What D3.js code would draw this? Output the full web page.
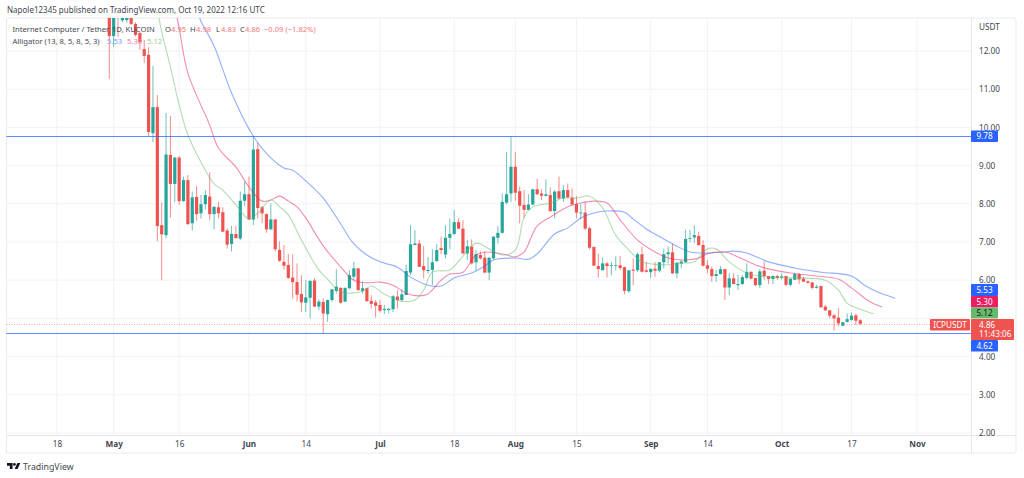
<!DOCTYPE html>
<html>
<head>
<meta charset="utf-8">
<script src="https://cdn.jsdelivr.net/npm/d3@7"></script>
<style>
  html, body { margin: 0; padding: 0; background: #fff; }
  svg { display: block; font-family: "Noto Sans", sans-serif; }
</style>
</head>
<body>
<div id="chart"></div>
<script>
// Daily candles, first one is Apr 30 2022
const firstDay = "2022-04-30";
const opens = [
  13.4,12.39,13.3,12.80,12.81,12.9,12.71,12.47,12.05,11.9,
  9.85,10.53,7.44,7.18,9.28,8.52,9.21,8.07,8.62,7.49,
  8.18,7.75,7.99,8.19,7.73,7.91,7.78,7.30,6.95,7.21,
  7.09,8.08,8.25,7.59,9.43,7.91,7.73,7.33,7.59,6.79,
  6.48,6.40,6.07,5.95,5.64,5.41,5.54,5.99,5.31,5.43,
  5.11,5.48,5.72,5.80,5.44,5.79,6.09,6.31,5.72,5.79,
  5.46,5.42,5.35,5.22,5.22,5.24,5.57,5.48,5.61,6.20,
  6.92,6.96,6.37,6.24,6.27,6.50,6.84,6.67,7.11,7.21,
  7.52,7.35,6.70,6.88,6.47,6.66,6.59,6.20,6.57,7.11,
  7.24,8.03,8.27,8.97,8.33,7.97,7.84,7.98,8.38,8.27,
  8.21,8.23,7.81,8.33,8.14,8.36,8.16,7.99,7.75,7.77,
  7.36,6.87,6.37,6.26,6.44,6.37,6.37,6.39,6.34,5.71,
  6.28,6.26,6.68,6.26,6.21,6.30,6.25,6.47,6.68,6.73,
  6.18,6.44,6.47,7.08,7.12,7.16,6.92,6.39,6.29,6.11,
  6.16,6.29,5.81,6.05,5.87,5.90,6.06,6.22,6.06,5.87,
  6.25,6.11,6.03,6.11,6.07,6.11,5.88,6.01,6.16,6.04,
  5.97,5.94,5.80,5.85,5.31,5.21,5.08,5.02,4.81,4.91,
  4.96,5.08,4.95
];
const highs = [
  13.7,13.5,13.6,13.0,13.0,13.0,12.75,12.50,12.29,12.10,
  11.61,10.85,8.03,10.38,10.30,9.23,9.25,8.71,8.75,8.32,
  8.46,8.23,8.36,8.83,7.94,8.05,7.91,7.36,7.42,7.42,
  8.32,8.58,8.71,9.77,9.60,7.94,7.75,8.01,7.60,7.01,
  6.92,6.68,6.68,6.44,6.13,6.00,6.00,6.05,5.50,5.52,
  5.49,5.77,6.28,5.81,5.81,6.26,6.48,6.32,5.96,5.80,
  5.61,5.48,5.48,5.35,5.28,5.61,5.74,5.76,6.40,7.44,
  7.31,7.05,6.89,6.61,6.81,6.95,7.14,7.44,7.62,7.84,
  7.62,7.57,7.05,7.07,6.79,6.75,6.76,6.60,7.15,7.42,
  8.27,9.36,9.76,9.36,8.45,8.36,8.25,8.39,8.66,8.38,
  8.64,8.43,8.36,8.71,8.49,8.53,8.40,8.20,7.99,8.05,
  7.40,6.88,6.70,6.60,6.48,6.48,6.63,6.63,6.35,6.27,
  6.57,6.72,6.88,6.48,6.30,6.48,6.47,6.83,6.88,6.96,
  6.46,6.53,7.32,7.32,7.43,7.27,7.05,6.53,6.36,6.27,
  6.37,6.29,6.18,6.18,6.14,6.14,6.44,6.23,6.06,6.29,
  6.49,6.11,6.13,6.14,6.18,6.11,6.04,6.20,6.18,6.09,
  5.99,5.96,5.88,5.85,5.35,5.22,5.12,5.27,4.90,5.13,
  5.15,5.13,4.98
];
const lows = [
  11.27,12.10,12.37,12.75,12.74,12.68,12.38,12.03,11.69,9.77,
  9.62,7.02,6.00,7.09,7.64,8.05,7.98,8.05,7.44,7.30,
  7.56,7.61,7.85,7.57,7.33,7.62,7.26,6.83,6.75,7.09,
  7.05,7.94,7.58,7.44,7.62,7.49,7.24,7.33,6.75,6.48,
  6.28,6.03,5.52,5.44,5.17,5.17,5.00,5.30,5.22,4.61,
  4.91,5.44,5.65,5.39,5.43,5.76,6.00,5.72,5.65,5.44,
  5.26,5.02,5.15,5.11,5.13,5.17,5.26,5.44,5.61,6.13,
  6.92,6.35,6.05,6.18,5.87,6.48,6.68,6.57,6.81,7.18,
  7.33,6.68,6.53,6.41,6.26,6.54,6.18,6.00,6.54,6.96,
  7.22,7.99,8.05,8.08,7.49,7.62,7.84,7.97,8.23,8.10,
  8.19,7.79,7.62,8.11,8.05,8.14,7.96,7.62,7.59,7.31,
  6.81,6.37,6.07,6.26,6.07,6.13,6.26,6.26,5.63,5.67,
  5.87,6.22,6.20,6.20,6.06,6.09,6.20,6.31,6.44,6.16,
  6.05,6.31,6.46,6.99,6.97,6.90,6.36,6.18,5.96,5.96,
  6.15,5.48,5.61,5.90,5.75,5.88,6.02,6.02,5.85,5.79,
  6.01,5.90,5.90,6.01,6.02,5.85,5.83,6.01,5.90,5.96,
  5.92,5.76,5.78,5.29,5.20,5.00,4.68,4.79,4.79,4.89,
  4.94,4.83,4.83
];
const closes = [
  12.39,13.2,13.0,12.88,12.88,12.71,12.42,12.24,11.87,9.88,
  10.53,7.42,7.20,9.29,8.52,9.21,8.07,8.62,7.47,8.17,
  7.73,7.99,8.23,7.73,7.92,7.75,7.27,6.93,7.21,7.10,
  8.08,8.25,7.59,9.42,7.89,7.75,7.33,7.59,6.81,6.51,
  6.38,6.06,5.95,5.62,5.42,5.55,5.98,5.31,5.44,5.13,
  5.48,5.76,5.83,5.41,5.80,6.13,6.31,5.74,5.79,5.45,
  5.38,5.33,5.20,5.25,5.25,5.58,5.48,5.63,6.24,6.94,
  6.96,6.35,6.26,6.27,6.47,6.79,6.79,7.11,7.21,7.52,
  7.35,6.70,6.89,6.44,6.68,6.57,6.20,6.59,7.14,7.24,
  8.05,8.25,8.97,8.29,7.95,7.84,7.98,8.38,8.25,8.21,
  8.25,7.81,8.32,8.14,8.36,8.17,7.98,7.77,7.77,7.35,
  6.85,6.38,6.29,6.44,6.37,6.39,6.39,6.32,5.72,6.26,
  6.25,6.68,6.22,6.22,6.30,6.25,6.47,6.68,6.73,6.18,
  6.46,6.49,7.08,7.10,7.18,6.92,6.38,6.30,6.11,6.16,
  6.29,5.81,6.05,5.90,5.90,6.08,6.22,6.04,5.87,6.23,
  6.11,6.03,6.11,6.06,6.10,5.88,6.04,6.16,6.02,5.96,
  5.93,5.80,5.83,5.29,5.21,5.07,5.00,4.87,4.90,4.98,
  5.07,4.94,4.86
];

// Alligator lines, read at some of the days (day number counted from firstDay)
const jawDays = [19,21,24,28,33,37,40,42,45,49,53,56,59,62,66,69,73,76,79,83,86,88,93,96,98,102,105,108,111,114,118,120,123,127,130,133,137,141,143,146,151,157,163,170,173,176,180];
const jawValues = [13.4,12.78,12.13,10.90,9.77,9.20,8.94,8.88,8.60,8.15,7.47,6.95,6.66,6.48,6.34,6.08,5.87,5.85,6.06,6.19,6.37,6.53,6.58,6.55,6.69,7.21,7.37,7.63,7.76,7.81,7.78,7.60,7.34,7.08,6.89,6.74,6.71,6.74,6.76,6.71,6.48,6.32,6.21,6.11,5.87,5.69,5.53];
const teethDays = [15,16,18,23,25,29,32,35,37,39,41,43,45,49,53,56,59,62,65,68,71,73,76,78,81,84,87,91,93,95,98,101,105,108,111,114,117,121,125,128,132,135,137,141,144,148,152,156,162,167,170,174,177];
const teethValues = [13.13,12.60,11.42,10.06,9.46,8.96,8.44,8.07,8.10,8.20,8.07,7.92,7.63,6.90,6.35,6.00,5.93,5.95,5.87,5.66,5.59,5.64,6.00,6.16,6.21,6.66,6.74,6.66,6.61,6.74,7.42,7.65,7.92,8.02,8.07,8.02,7.58,7.05,6.74,6.58,6.53,6.58,6.69,6.74,6.61,6.40,6.27,6.19,6.11,6.03,5.80,5.45,5.30];
const lipsDays = [10,11,12,14,16,18,21,24,26,29,32,34,37,39,41,44,48,50,53,58,60,63,67,70,72,74,78,81,84,87,90,93,95,97,101,104,107,110,113,116,119,122,127,132,134,137,139,142,146,151,158,164,167,169,172,175];
const lipsValues = [13.47,13.07,12.50,11.58,10.59,9.80,9.09,8.52,8.36,7.97,7.60,7.76,8.10,7.92,7.71,7.05,6.27,6.03,5.69,5.71,5.85,5.64,5.45,5.48,5.74,6.21,6.27,6.63,6.97,6.82,6.66,6.79,7.65,7.92,8.02,8.15,8.15,8.20,7.89,7.18,6.79,6.48,6.40,6.45,6.48,6.82,6.82,6.48,6.19,6.08,6.06,6.00,5.74,5.40,5.24,5.12];

const priceTicks = [2,3,4,5,6,7,8,9,10,11,12];
const timeTicks = ["2022-04-18","2022-05-01","2022-05-16","2022-06-01","2022-06-14","2022-07-01","2022-07-18","2022-08-01","2022-08-15","2022-09-01","2022-09-14","2022-10-01","2022-10-17","2022-11-01"];
const timeLabels = ["18","May","16","Jun","14","Jul","18","Aug","15","Sep","14","Oct","17","Nov"];
const monthLabels = ["May","Jun","Jul","Aug","Sep","Oct","Nov"];
const levelLines = [9.78, 4.62];
const lastPrice = 4.86;

const up = "#26a69a", down = "#ef5350";
const jawColor = "#2962ff", teethColor = "#e91e63", lipsColor = "#66bb6a";

const width = 1024, height = 478;
const pane = {left: 6.5, right: 971, top: 18, bottom: 435};
const fontSize = "8.2px";

const svg = d3.select("#chart")
  .append("svg")
  .attr("width", width)
  .attr("height", height);

const parse = d3.utcParse("%Y-%m-%d");
const dayZero = parse(firstDay);
const dayDate = i => d3.utcDay.offset(dayZero, i);

const xScale = d3.scaleUtc()
  .domain([parse("2022-05-01"), parse("2022-11-01")])
  .range([113.67, 917]);
const yScale = d3.scaleLinear()
  .domain([2, 12])
  .range([433, 51]);

svg.append("defs").append("clipPath")
    .attr("id", "pane")
  .append("rect")
    .attr("x", pane.left)
    .attr("y", pane.top)
    .attr("width", pane.right - pane.left)
    .attr("height", pane.bottom - pane.top);

// Frame and axis separators
svg.append("rect")
  .attr("x", pane.left).attr("y", pane.top)
  .attr("width", 1016 - pane.left).attr("height", 453 - pane.top)
  .attr("rx", 2)
  .attr("fill", "none").attr("stroke", "#e8eaf0");
svg.append("line")
  .attr("x1", pane.left).attr("x2", 1016)
  .attr("y1", pane.bottom + .5).attr("y2", pane.bottom + .5)
  .attr("stroke", "#e4e6ec");
svg.append("line")
  .attr("x1", pane.right + .5).attr("x2", pane.right + .5)
  .attr("y1", pane.top).attr("y2", 453)
  .attr("stroke", "#e4e6ec");

// Grid
const grid = svg.append("g").attr("stroke", "#f1f3f7");
grid.selectAll(".h").data(priceTicks).join("line")
  .attr("x1", pane.left).attr("x2", pane.right)
  .attr("y1", d => yScale(d)).attr("y2", d => yScale(d));
grid.selectAll(".v").data(timeTicks).join("line")
  .attr("x1", d => xScale(parse(d))).attr("x2", d => xScale(parse(d)))
  .attr("y1", pane.top).attr("y2", pane.bottom);

const plot = svg.append("g").attr("clip-path", "url(#pane)");

// Candles
const candles = plot.append("g")
  .selectAll("g")
  .data(opens.map((o, i) => ({i, o, h: highs[i], l: lows[i], c: closes[i]})))
  .join("g")
    .attr("fill", d => d.c >= d.o ? up : down)
    .attr("stroke", d => d.c >= d.o ? up : down);

candles.append("line")
  .attr("x1", d => xScale(dayDate(d.i))).attr("x2", d => xScale(dayDate(d.i)))
  .attr("y1", d => yScale(d.h)).attr("y2", d => yScale(d.l))
  .attr("stroke-width", .9)
  .attr("stroke-opacity", .75);

candles.append("rect")
  .attr("x", d => xScale(dayDate(d.i)) - 1.6)
  .attr("width", 3.2)
  .attr("y", d => yScale(Math.max(d.o, d.c)))
  .attr("height", d => Math.max(Math.abs(yScale(d.o) - yScale(d.c)), .8))
  .attr("stroke", "none");

// Alligator
const line = d3.line()
  .x(d => xScale(dayDate(d[0])))
  .y(d => yScale(d[1]))
  .curve(d3.curveCatmullRom);

[[jawDays, jawValues, jawColor], [teethDays, teethValues, teethColor], [lipsDays, lipsValues, lipsColor]]
  .forEach(([days, values, color]) => {
    plot.append("path")
      .attr("d", line(d3.zip(days, values)))
      .attr("fill", "none")
      .attr("stroke", color)
      .attr("stroke-opacity", .5)
      .attr("stroke-width", 1.1);
  });

// Horizontal levels and the last price line
svg.selectAll(".level").data(levelLines).join("line")
  .attr("x1", pane.left).attr("x2", pane.right)
  .attr("y1", d => Math.round(yScale(d)) + .5).attr("y2", d => Math.round(yScale(d)) + .5)
  .attr("stroke", "#2962ff")
  .attr("stroke-opacity", .75);
svg.append("line")
  .attr("x1", pane.left).attr("x2", pane.right)
  .attr("y1", Math.round(yScale(lastPrice)) + .5).attr("y2", Math.round(yScale(lastPrice)) + .5)
  .attr("stroke", down)
  .attr("stroke-opacity", .5)
  .attr("stroke-dasharray", "1 1.5");

// Axes
const yAxis = d3.axisRight(yScale)
  .tickValues(priceTicks.filter(d => d !== 5))
  .tickSize(0)
  .tickPadding(8)
  .tickFormat(d3.format(".2f"));
svg.append("g")
    .attr("transform", `translate(${pane.right},0)`)
  .call(yAxis)
  .call(g => g.select(".domain").remove())
  .call(g => g.selectAll("text")
    .attr("fill", "#434651")
    .style("font-size", fontSize)
    .style("font-family", "'Noto Sans', sans-serif"));

const xAxis = d3.axisBottom(xScale)
  .tickValues(timeTicks.map(parse))
  .tickSize(0)
  .tickPadding(6)
  .tickFormat((d, i) => timeLabels[i]);
svg.append("g")
    .attr("transform", `translate(0,${pane.bottom})`)
  .call(xAxis)
  .call(g => g.select(".domain").remove())
  .call(g => g.selectAll("text")
    .attr("fill", "#434651")
    .style("font-size", fontSize)
    .style("font-family", "'Noto Sans', sans-serif")
    .style("font-weight", (d, i) => monthLabels.includes(timeLabels[i]) ? 700 : 400));

svg.append("text")
  .attr("x", 979).attr("y", 30)
  .attr("fill", "#434651")
  .style("font-size", fontSize)
  .text("USDT");

// Price labels on the right axis
const tag = (text, top, h, fill, color, x0 = 971, w = 27) => {
  svg.append("rect")
    .attr("x", x0).attr("y", top).attr("width", w).attr("height", h)
    .attr("rx", 1).attr("fill", fill);
  svg.append("text")
    .attr("x", x0 + w / 2).attr("y", top + h / 2 + 3)
    .attr("text-anchor", "middle")
    .attr("fill", color)
    .style("font-size", fontSize)
    .text(text);
};
tag("9.78", 130.5, 11.5, jawColor, "#fff");
tag("5.53", 284, 12, jawColor, "#fff");
tag("5.30", 296, 11.5, teethColor, "#fff");
tag("5.12", 307.5, 11, lipsColor, "#131722");
tag("4.62", 340, 11.5, jawColor, "#fff");
svg.append("rect")
  .attr("x", 971).attr("y", 319).attr("width", 43).attr("height", 21)
  .attr("rx", 1).attr("fill", down);
svg.append("text").attr("x", 979).attr("y", 327.5).attr("fill", "#fff").style("font-size", fontSize).text("4.86");
svg.append("text").attr("x", 979).attr("y", 337).attr("fill", "#fff").style("font-size", fontSize).text("11:43:06");
tag("ICPUSDT", 319, 11.5, down, "#fff", 930, 40);

// Header and legend
svg.append("text")
  .attr("x", 7).attr("y", 13)
  .attr("fill", "#434651")
  .style("font-size", "8px")
  .text("Napole12345 published on TradingView.com, Oct 19, 2022 12:16 UTC");

const legendDark = "#434651", legendRed = "#f7777b";
const legendTexts = [
  ["Internet Computer / Tether, 1D, KUCOIN", 12.5, 32, legendDark],
  ["O", 165, 32, legendDark], ["4.95", 171, 32, legendRed],
  ["H", 190, 32, legendDark], ["4.98", 196, 32, legendRed],
  ["L", 216, 32, legendDark], ["4.83", 221, 32, legendRed],
  ["C", 240, 32, legendDark], ["4.86", 245, 32, legendRed],
  ["\u22120.09 (\u22121.82%)", 264, 32, legendRed],
  ["Alligator (13, 8, 5, 8, 5, 3)", 12.5, 43.5, legendDark],
  ["5.53", 107, 43.5, "#7da0fa"], ["5.30", 127, 43.5, "#f17aa2"], ["5.12", 147, 43.5, "#94d097"]
];
svg.selectAll(".legend").data(legendTexts).join("text")
  .attr("x", d => d[1]).attr("y", d => d[2])
  .attr("fill", d => d[3])
  .style("font-size", "7.6px")
  .text(d => d[0]);

// TradingView mark
svg.append("path")
  .attr("d", "M7 463h5.6v6h-2.8v-3.3H7z M20.4 463l-2.8 6h-3l2.8-6z")
  .attr("fill", "#131722");
svg.append("circle").attr("cx", 14.4).attr("cy", 464.4).attr("r", 1.4).attr("fill", "#131722");
svg.append("text")
  .attr("x", 23).attr("y", 470)
  .attr("fill", "#434651")
  .style("font-size", "8.8px")
  .text("TradingView");
</script>
</body>
</html>
